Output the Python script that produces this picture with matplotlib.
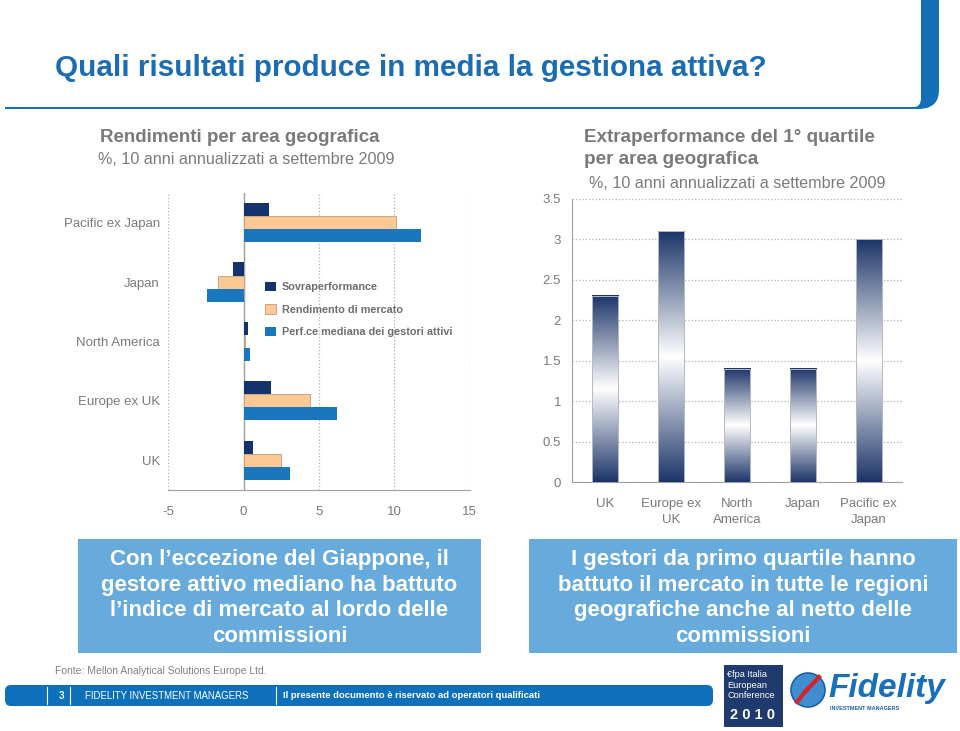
import numpy as np
import matplotlib
matplotlib.use("Agg")
import matplotlib.pyplot as plt
from matplotlib.colors import LinearSegmentedColormap
from matplotlib.patches import Rectangle, FancyBboxPatch, PathPatch, Circle
from matplotlib.path import Path

plt.rcParams['font.family'] = ['Liberation Sans', 'DejaVu Sans']

# === DATEN ===
# linkes Diagramm (von unten nach oben)
regioni = ['UK', 'Europe ex UK', 'North America', 'Japan', 'Pacific ex Japan']
sovraperf = [0.6, 1.8, 0.3, -0.7, 1.7]
rend_mercato = [2.5, 4.4, 0.1, -1.7, 10.1]
perf_mediana = [3.1, 6.2, 0.4, -2.4, 11.8]
serie_labels = ['Sovraperformance', 'Rendimento di mercato',
                'Perf.ce mediana dei gestori attivi']

# rechtes Diagramm
regioni_q1 = ['UK', 'Europe ex\nUK', 'North\nAmerica', 'Japan', 'Pacific ex\nJapan']
extraperf_q1 = [2.3, 3.1, 1.4, 1.4, 3.0]

# === FARBEN ===
navy = '#14326b'
peach = '#fcc995'
blue = '#1a76bd'
grey_txt = '#7a7a7a'
axis_grey = '#a0a0a0'
title_blue = '#1a6cb3'
box_blue = '#66abdb'

fig = plt.figure(figsize=(9.6, 7.31), dpi=100)

# Hintergrund-Achse in Pixelkoordinaten
bg = fig.add_axes([0, 0, 1, 1], zorder=0)
bg.set_xlim(0, 960)
bg.set_ylim(731, 0)
bg.axis('off')

# Titel + Rahmen oben
bg.text(55, 68, 'Quali risultati produce in media la gestiona attiva?',
        fontsize=21.3, fontweight='bold', color=title_blue, va='center', ha='left')
verts = [(921, 0), (939, 0), (939, 90), (939, 109), (918, 109), (5, 109),
         (5, 107), (914, 107), (921, 107), (921, 98), (921, 0)]
codes = [Path.MOVETO, Path.LINETO, Path.LINETO, Path.CURVE3, Path.CURVE3,
         Path.LINETO, Path.LINETO, Path.LINETO, Path.CURVE3, Path.CURVE3,
         Path.CLOSEPOLY]
bg.add_patch(PathPatch(Path(verts, codes), facecolor='#1170b8', edgecolor='none'))

# Untertitel
bg.text(240, 137, 'Rendimenti per area geografica', fontsize=13.5, fontweight='bold',
        color=grey_txt, ha='center', va='center')
bg.text(246, 159, '%, 10 anni annualizzati a settembre 2009', fontsize=11.6,
        color=grey_txt, ha='center', va='center')
bg.text(584, 137, 'Extraperformance del 1° quartile', fontsize=13.6, fontweight='bold',
        color=grey_txt, ha='left', va='center')
bg.text(584, 160, 'per area geografica', fontsize=13.6, fontweight='bold',
        color=grey_txt, ha='left', va='center')
bg.text(589, 184, '%, 10 anni annualizzati a settembre 2009', fontsize=11.6,
        color=grey_txt, ha='left', va='center')

# Textboxen unten
bg.add_patch(Rectangle((78, 539), 403, 114, facecolor=box_blue, edgecolor='none'))
bg.add_patch(Rectangle((529, 539), 428, 114, facecolor=box_blue, edgecolor='none'))
bg.text(279.5, 598, 'Con l\u2019eccezione del Giappone, il\ngestore attivo mediano ha battuto\n'
        'l\u2019indice di mercato al lordo delle\ncommissioni',
        fontsize=16, fontweight='bold', color='white', ha='center', va='center',
        linespacing=1.31)
bg.text(743, 598, 'I gestori da primo quartile hanno\nbattuto il mercato in tutte le regioni\n'
        'geografiche anche al netto delle\ncommissioni',
        fontsize=16, fontweight='bold', color='white', ha='center', va='center',
        linespacing=1.31)

# Fusszeile
bg.text(55, 671, 'Fonte: Mellon Analytical Solutions Europe Ltd.', fontsize=7.5,
        color='#808080', ha='left', va='center')
bg.add_patch(FancyBboxPatch((5, 685), 708, 21, boxstyle='round,pad=0,rounding_size=6',
                            facecolor='#0e70ba', edgecolor='none'))
for xs in [47, 70, 276]:
    bg.plot([xs, xs], [687, 704], color='white', lw=0.8)
bg.text(61, 696, '3', fontsize=7, fontweight='bold', color='white', ha='center', va='center')
bg.text(85, 696, 'FIDELITY INVESTMENT MANAGERS', fontsize=6.9, color='white',
        ha='left', va='center')
bg.text(283, 696, 'Il presente documento è riservato ad operatori qualificati',
        fontsize=6.8, fontweight='bold', color='white', ha='left', va='center')

# Logos (vereinfacht)
bg.add_patch(Rectangle((724, 665), 59, 62, facecolor='#1f3a6c', edgecolor='none'))
bg.text(727, 685, '€fpa Italia\nEuropean\nConference', fontsize=6.6, color='white',
        ha='left', va='center', linespacing=1.25)
bg.text(753, 715, '2 0 1 0', fontsize=10.5, color='white', ha='center', va='center',
        fontweight='bold')
bg.add_patch(Circle((808, 690), 17, facecolor='#3f8fd0', edgecolor='#1a5fa8', lw=1.2))
bg.plot([797, 808, 806, 819], [702, 688, 691, 677], color='#d8232a', lw=3)
bg.text(828, 688, 'Fidelity', fontsize=24, fontweight='bold', style='italic',
        color='#1a6fba', ha='left', va='center')
bg.text(830, 708, 'INVESTMENT MANAGERS', fontsize=4, fontweight='bold',
        color='#1a5fa8', ha='left', va='center')

# === LINKES DIAGRAMM ===
ax1 = fig.add_axes([0.1753, 0.3297, 0.3140, 0.4063], zorder=2)
ax1.patch.set_alpha(0)
y = np.arange(len(regioni))
h = 0.22
ax1.barh(y + h, sovraperf, height=h, color=navy, label=serie_labels[0], zorder=3)
ax1.barh(y, rend_mercato, height=h, color=peach, edgecolor='#c49c78', linewidth=0.6,
         label=serie_labels[1], zorder=3)
ax1.barh(y - h, perf_mediana, height=h, color=blue, label=serie_labels[2], zorder=3)
ax1.axvline(0, color=axis_grey, lw=1, zorder=2)
ax1.set_xlim(-5, 15)
ax1.set_ylim(-0.5, 4.5)
ax1.set_xticks([-5, 0, 5, 10, 15])
ax1.set_xticklabels(['-5', '0', '5', '10', '15'])
ax1.set_yticks(y)
ax1.set_yticklabels(regioni)
ax1.grid(axis='x', ls=':', color='#b0b0b0', lw=0.9, zorder=0)
for s in ['top', 'right', 'left']:
    ax1.spines[s].set_visible(False)
ax1.spines['bottom'].set_color(axis_grey)
ax1.tick_params(axis='y', length=0, pad=6, labelsize=9.5, labelcolor=grey_txt)
ax1.tick_params(axis='x', length=0, pad=11.5, labelsize=9.5, labelcolor=grey_txt)
leg = ax1.legend(loc='upper left', bbox_to_anchor=(0.320, 0.701), frameon=False,
                 prop={'size': 7.8, 'weight': 'bold'}, handlelength=1.0,
                 handleheight=1.0, labelspacing=1.1, handletextpad=0.55, borderpad=0,
                 borderaxespad=0)
for t in leg.get_texts():
    t.set_color('#6e6e6e')

# === RECHTES DIAGRAMM ===
ax2 = fig.add_axes([0.5961, 0.3402, 0.3431, 0.3876], zorder=2)
ax2.patch.set_alpha(0)
xq = np.arange(len(regioni_q1))
bars = ax2.bar(xq, extraperf_q1, width=0.4, facecolor='none', edgecolor='#b8b8c0',
               linewidth=0.7, zorder=4)
grad_cmap = LinearSegmentedColormap.from_list('grad', ['#1c3569', '#ffffff', '#1c3569'])
grad = np.linspace(0, 1, 256).reshape(-1, 1)
for b in bars:
    ax2.imshow(grad, extent=[b.get_x(), b.get_x() + b.get_width(), 0, b.get_height()],
               aspect='auto', cmap=grad_cmap, origin='lower', zorder=3)
ax2.set_xlim(-0.5, 4.5)
ax2.set_ylim(0, 3.5)
ax2.set_yticks(np.arange(0, 3.51, 0.5))
ax2.set_yticklabels(['0', '0.5', '1', '1.5', '2', '2.5', '3', '3.5'])
ax2.set_xticks(xq)
ax2.set_xticklabels(regioni_q1, linespacing=1.45)
ax2.grid(axis='y', ls=':', color='#b0b0b0', lw=0.9, zorder=0)
for s in ['top', 'right']:
    ax2.spines[s].set_visible(False)
ax2.spines['left'].set_color(axis_grey)
ax2.spines['bottom'].set_color(axis_grey)
ax2.tick_params(axis='y', length=0, pad=8, labelsize=9.5, labelcolor=grey_txt)
ax2.tick_params(axis='x', length=0, pad=11, labelsize=9.5, labelcolor=grey_txt)

fig.savefig('out.png', dpi=100)
